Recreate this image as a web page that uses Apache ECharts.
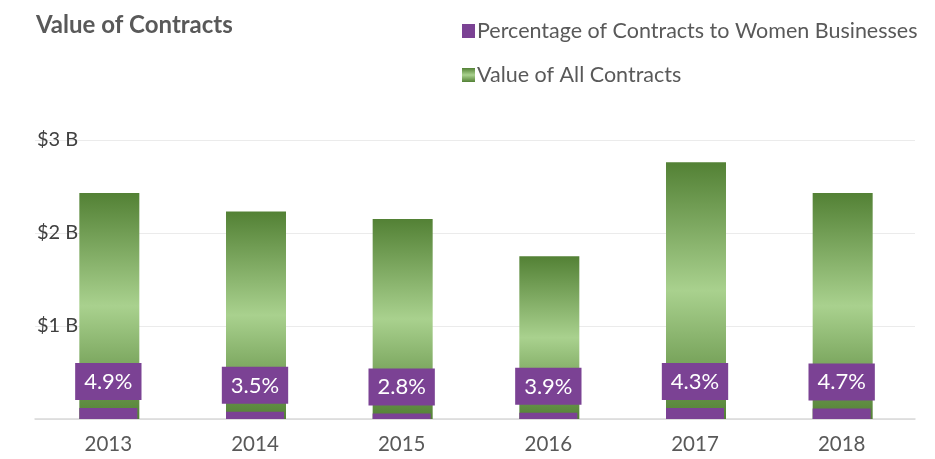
<!DOCTYPE html>
<html><head><meta charset="utf-8">
<script src="https://cdn.jsdelivr.net/npm/echarts@6/dist/echarts.min.js"></script>
<style>html,body{margin:0;padding:0;background:#fff}#c{width:935px;height:459px}</style>
</head><body><div id="c"></div>
<script>
const years = ['2013','2014','2015','2016','2017','2018'];
const totalValue = [2.43, 2.23, 2.15, 1.75, 2.76, 2.43]; // $ billions
const womenPct = [4.9, 3.5, 2.8, 3.9, 4.3, 4.7];          // percent
const yTicks = [0, 1, 2, 3];

const womenValue = totalValue.map((v, i) => v * womenPct[i] / 100);
const FONT = 'Lato';
const chart = echarts.init(document.getElementById('c'));
const green = new echarts.graphic.LinearGradient(0, 0, 0, 1, [
  {offset: 0, color: '#538135'},
  {offset: 0.5, color: '#A9D18E'},
  {offset: 1, color: '#538135'}
]);
const purple = '#7B4294';
chart.setOption({
  animation: false,
  textStyle: {fontFamily: FONT},
  title: {text: 'Value of Contracts', left: 31, top: 8,
    textStyle: {fontFamily: FONT, fontSize: 24, fontWeight: 'bold', color: '#595959'}},
  legend: {
    orient: 'vertical', left: 457, top: 15, itemGap: 22, itemWidth: 13, itemHeight: 14,
    icon: 'rect', data: ['Percentage of Contracts to Women Businesses', 'Value of All Contracts'],
    textStyle: {fontFamily: FONT, fontSize: 21.5, color: '#595959', padding: [0, 0, 0, -3]}
  },
  grid: {left: 35, right: 20, top: 140, bottom: 40},
  xAxis: {
    type: 'category', data: years,
    axisLine: {lineStyle: {color: '#d9d9d9', width: 1.5}},
    axisTick: {show: false},
    axisLabel: {fontFamily: FONT, fontSize: 20.5, color: '#595959', margin: 15}
  },
  yAxis: {
    type: 'value', min: yTicks[0], max: yTicks[yTicks.length - 1], interval: 1,
    axisLine: {show: false}, axisTick: {show: false},
    splitLine: {lineStyle: {color: '#ebebeb'}},
    axisLabel: {fontFamily: FONT, fontSize: 20, color: '#404040', margin: -2,
      formatter: v => v === 0 ? '' : '$' + v + ' B', verticalAlign: 'middle', align: 'left',
      padding: [0, 0, 11, 0]}
  },
  series: [
    {name: 'Value of All Contracts', type: 'bar', data: totalValue, barWidth: 60,
      itemStyle: {color: green}},
    {name: 'Percentage of Contracts to Women Businesses', type: 'bar', data: womenValue,
      barWidth: 58, barGap: '-100%', itemStyle: {color: purple},
      label: {show: true, position: 'top', distance: 8,
        formatter: p => womenPct[p.dataIndex].toFixed(1) + '%',
        backgroundColor: purple, color: '#fff', fontFamily: FONT, fontSize: 22,
        padding: [8, 9, 7, 9]}}
  ]
});
</script></body></html>
